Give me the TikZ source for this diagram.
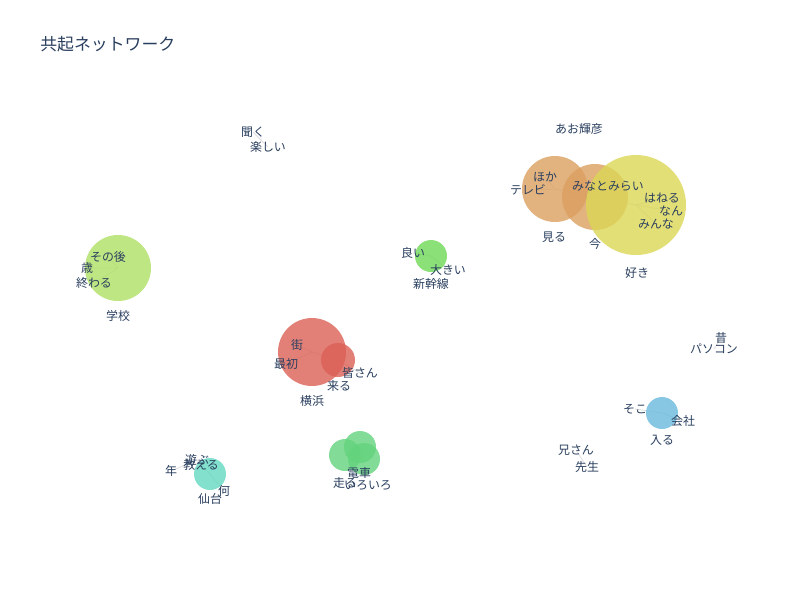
\documentclass[tikz,border=0pt]{standalone}
\usepackage{fontspec}
\setmainfont{Noto Sans CJK JP}
\definecolor{ink}{RGB}{42,63,95}
\definecolor{cyel}{RGB}{220,215,86}
\definecolor{corg}{RGB}{219,159,96}
\definecolor{clim}{RGB}{174,224,99}
\definecolor{cred}{RGB}{219,96,86}
\definecolor{cgrn}{RGB}{111,217,86}
\definecolor{cteal}{RGB}{99,217,193}
\definecolor{cmint}{RGB}{99,211,124}
\definecolor{cblue}{RGB}{105,186,221}
\pgfdeclarelayer{bg}
\pgfsetlayers{bg,main}
\tikzset{
  lbl/.style={text=ink,font=\fontsize{6.8}{8}\selectfont,inner sep=0pt},
  hub/.style={circle,inner sep=0pt,fill opacity=0.8,draw=none},
  edge/.style={draw=black!12,line width=0.5pt},
}
\begin{document}
\begin{tikzpicture}[x=0.02cm,y=-0.02cm]
	\useasboundingbox (0,0) rectangle (800,600);
	
	\node[text=ink,font=\fontsize{9.6}{11}\selectfont,anchor=west,inner sep=0pt] (title) at (40,44) {共起ネットワーク};
	
	% bubble centres
	\coordinate (p_yel) at (636,205);
	\coordinate (p_orA) at (555,189);
	\coordinate (p_orB) at (595,197);
	\coordinate (p_gak) at (118,268);
	\coordinate (p_yok) at (312,352);
	\coordinate (p_kur) at (338,360);
	\coordinate (p_shi) at (431,256);
	\coordinate (p_sen) at (210,474);
	\coordinate (p_gA) at (345,455);
	\coordinate (p_gB) at (360,447);
	\coordinate (p_gC) at (364,459);
	\coordinate (p_kai) at (662,413);
	
	% words
	\node[lbl] (aoki) at (579,129) {あお輝彦};
	\node[lbl] (hoka) at (545,177) {ほか};
	\node[lbl] (terebi) at (528,190) {テレビ};
	\node[lbl] (minato) at (608,186) {みなとみらい};
	\node[lbl] (haneru) at (662,198) {はねる};
	\node[lbl] (nan) at (671,211) {なん};
	\node[lbl] (minna) at (656,224) {みんな};
	\node[lbl] (miru) at (554,237) {見る};
	\node[lbl] (ima) at (595,244) {今};
	\node[lbl] (suki) at (637,273) {好き};
	\node[lbl] (sonogo) at (108,257) {その後};
	\node[lbl] (sai) at (87,268) {歳};
	\node[lbl] (owaru) at (94,283) {終わる};
	\node[lbl] (gakkou) at (118,316) {学校};
	\node[lbl] (kiku) at (253,132) {聞く};
	\node[lbl] (tanoshii) at (268,147) {楽しい};
	\node[lbl] (yoi) at (413,253) {良い};
	\node[lbl] (ookii) at (448,270) {大きい};
	\node[lbl] (shinkansen) at (431,284) {新幹線};
	\node[lbl] (machi) at (297,345) {街};
	\node[lbl] (saisho) at (286,364) {最初};
	\node[lbl] (minasan) at (360,373) {皆さん};
	\node[lbl] (kuru) at (339,386) {来る};
	\node[lbl] (yokohama) at (312,401) {横浜};
	\node[lbl] (mukashi) at (721,338) {昔};
	\node[lbl] (pasokon) at (714,349) {パソコン};
	\node[lbl] (soko) at (635,409) {そこ};
	\node[lbl] (kaisha) at (683,421) {会社};
	\node[lbl] (hairu) at (662,440) {入る};
	\node[lbl] (niisan) at (576,450) {兄さん};
	\node[lbl] (sensei) at (587,467) {先生};
	\node[lbl] (asobu) at (197,460) {遊ぶ};
	\node[lbl] (oshieru) at (201,465) {教える};
	\node[lbl] (toshi) at (171,471) {年};
	\node[lbl] (nani) at (224,491) {何};
	\node[lbl] (sendai) at (210,499) {仙台};
	\node[lbl] (densha) at (359,473) {電車};
	\node[lbl] (hashiru) at (345,483) {走る};
	\node[lbl] (iroiro) at (368,485) {いろいろ};
	
	\begin{pgfonlayer}{bg}
		\fill[white] (0,0) rectangle (800,600);
		% edges
		\path[edge] (hoka.center) -- (p_orA) (terebi.center) -- (p_orA) -- (p_orB) -- (p_yel);
		\path[edge] (p_orB) -- (minato.center);
		\path[edge] (p_yel) -- (haneru.center) (p_yel) -- (nan.center) (p_yel) -- (minna.center);
		\path[edge] (p_gak) -- (sonogo.center) (p_gak) -- (sai.center) (p_gak) -- (owaru.center);
		\path[edge] (kiku.center) -- (tanoshii.center);
		\path[edge] (yoi.center) -- (p_shi) -- (ookii.center);
		\path[edge] (machi.center) -- (p_yok) (saisho.center) -- (p_yok) -- (p_kur) -- (minasan.center);
		\path[edge] (mukashi.center) -- (pasokon.center);
		\path[edge] (soko.center) -- (p_kai) -- (kaisha.center);
		\path[edge] (niisan.center) -- (sensei.center);
		\path[edge] (toshi.center) -- (asobu.center) -- (p_sen) -- (nani.center);
		\path[edge] (p_gA) -- (p_gB) -- (p_gC) -- (p_gA);
		
		% bubbles
		\node[hub,fill=corg,minimum size=1.32cm] (miruB) at (p_orA) {};
		\node[hub,fill=corg,minimum size=1.32cm] (imaB) at (p_orB) {};
		\node[hub,fill=cyel,minimum size=2cm] (sukiB) at (p_yel) {};
		\node[hub,fill=clim,minimum size=1.32cm] (gakkouB) at (p_gak) {};
		\node[hub,fill=cred,minimum size=1.36cm] (yokohamaB) at (p_yok) {};
		\node[hub,fill=cred,minimum size=0.68cm] (kuruB) at (p_kur) {};
		\node[hub,fill=cgrn,minimum size=0.64cm] (shinkansenB) at (p_shi) {};
		\node[hub,fill=cteal,minimum size=0.64cm] (sendaiB) at (p_sen) {};
		\node[hub,fill=cmint,minimum size=0.64cm] (hashiruB) at (p_gA) {};
		\node[hub,fill=cmint,minimum size=0.64cm] (denshaB) at (p_gB) {};
		\node[hub,fill=cmint,minimum size=0.64cm] (iroiroB) at (p_gC) {};
		\node[hub,fill=cblue,minimum size=0.64cm] (hairuB) at (p_kai) {};
	\end{pgfonlayer}
\end{tikzpicture}
\end{document}
